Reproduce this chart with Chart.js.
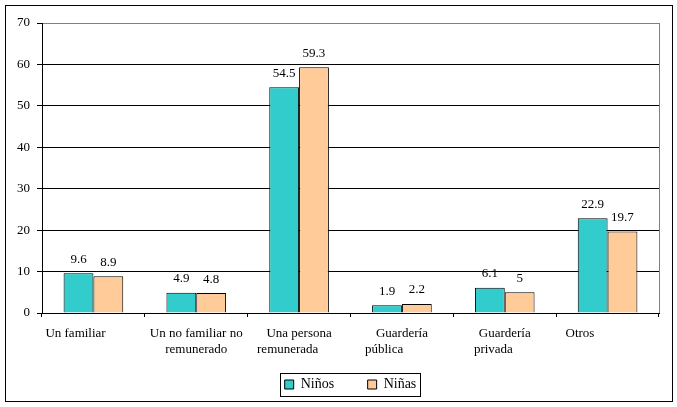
<!DOCTYPE html>
<html><head><meta charset="utf-8">
<script src="https://cdn.jsdelivr.net/npm/chart.js@4/dist/chart.umd.min.js"></script>
<style>html,body{margin:0;padding:0;background:#fff}canvas{display:block}</style>
</head><body>
<canvas id="c" width="677" height="407"></canvas>
<script>
// ---- data ----
const categories = [["Un familiar"], ["Un no familiar no", "remunerado"], ["Una persona", "remunerada"], ["Guardería", "pública"], ["Guardería", "privada"], ["Otros"]];
const seriesNames = ["Niños", "Niñas"];
const ninos = [9.6, 4.9, 54.5, 1.9, 6.1, 22.9];
const ninas = [8.9, 4.8, 59.3, 2.2, 5, 19.7];
const yTicks = [0, 10, 20, 30, 40, 50, 60, 70];

// ---- style ----
const FONT = "'Liberation Serif', 'Times New Roman', serif";
const labelTrailingSpaces = [[11], [0, 0], [0, 7], [0, 11], [0, 7], [17]];
const legendTrailingSpaces = [4, 0];

const framePlugin = {
  id: 'frame',
  beforeDraw(chart) {
    const ctx = chart.ctx;
    ctx.save();
    ctx.fillStyle = '#fff';
    ctx.fillRect(0, 0, chart.width, chart.height);
    ctx.strokeStyle = '#000';
    ctx.lineWidth = 1;
    ctx.strokeRect(5.5, 5.5, 667, 396);
    ctx.restore();
  },
  afterDatasetsDraw(chart) {
    const ctx = chart.ctx;
    ctx.save();
    ctx.font = "13px " + FONT;
    ctx.fillStyle = '#000';
    ctx.textAlign = 'center';
    ctx.textBaseline = 'middle';
    chart.data.datasets.forEach((ds, i) => {
      chart.getDatasetMeta(i).data.forEach((bar, j) => {
        ctx.fillText(String(ds.data[j]), bar.x, bar.y - 14);
      });
    });
    ctx.restore();
  },
  afterDraw(chart) {
    const ctx = chart.ctx;
    const a = chart.chartArea;
    ctx.save();
    ctx.strokeStyle = '#808080';
    ctx.lineWidth = 1;
    ctx.beginPath();
    ctx.moveTo(Math.round(a.right) + 0.5, a.top);
    ctx.lineTo(Math.round(a.right) + 0.5, a.bottom);
    ctx.stroke();
    const hb = chart.legend.legendHitBoxes;
    if (hb && hb.length) {
      const first = hb[0], last = hb[hb.length - 1];
      const cy = first.top + first.height / 2;
      const l = Math.round(first.left - 5) + 0.5;
      const r = Math.round(last.left + last.width + 4) + 0.5;
      const t = Math.round(cy - 12) + 0.5;
      ctx.strokeStyle = '#000';
      ctx.strokeRect(l, t, r - l, 23);
    }
    ctx.restore();
  }
};

new Chart(document.getElementById('c'), {
  type: 'bar',
  data: {
    labels: categories,
    datasets: [
      { label: seriesNames[0], data: ninos, backgroundColor: '#33CCCC', borderColor: '#000', borderWidth: 1, categoryPercentage: 0.58, barPercentage: 1 },
      { label: seriesNames[1], data: ninas, backgroundColor: '#FFCC99', borderColor: '#000', borderWidth: 1, categoryPercentage: 0.58, barPercentage: 1 }
    ]
  },
  options: {
    responsive: false,
    animation: false,
    devicePixelRatio: 1,
    layout: { padding: { left: 0, right: 18, top: 23, bottom: 5.5 } },
    plugins: {
      legend: {
        position: 'bottom',
        fullSize: false,
        labels: {
          font: { family: FONT, size: 14 },
          color: '#000',
          boxWidth: 9,
          boxHeight: 9,
          padding: 19.5,
          generateLabels(chart) {
            const items = Chart.defaults.plugins.legend.labels.generateLabels(chart);
            items.forEach((it, i) => { it.text = it.text + ' '.repeat(legendTrailingSpaces[i]); it.lineWidth = 1; it.strokeStyle = '#000'; });
            return items;
          }
        }
      },
      tooltip: { enabled: false }
    },
    scales: {
      x: {
        afterFit(s) { s.height = 45; },
        grid: { offset: true, drawOnChartArea: false, color: '#000', tickLength: 4, tickColor: '#000' },
        border: { color: '#000', width: 1 },
        ticks: {
          font: { family: FONT, size: 13, lineHeight: 1.27 },
          color: '#000',
          padding: 8,
          maxRotation: 0,
          autoSkip: false,
          callback(v, i) {
            return categories[i].map((line, k) => line + ' '.repeat(labelTrailingSpaces[i][k]));
          }
        }
      },
      y: {
        min: 0,
        max: 70,
        afterFit(s) { s.width = 42; },
        afterBuildTicks(s) { s.ticks = yTicks.map(v => ({ value: v })); },
        grid: {
          color: ctx => (ctx.tick && ctx.tick.value === 70 ? '#808080' : '#000'),
          tickColor: '#000',
          tickLength: 5
        },
        border: { color: '#000', width: 1 },
        ticks: {
          font: { family: FONT, size: 13 },
          color: '#000',
          padding: 7
        }
      }
    }
  },
  plugins: [framePlugin]
});
</script>
</body></html>
